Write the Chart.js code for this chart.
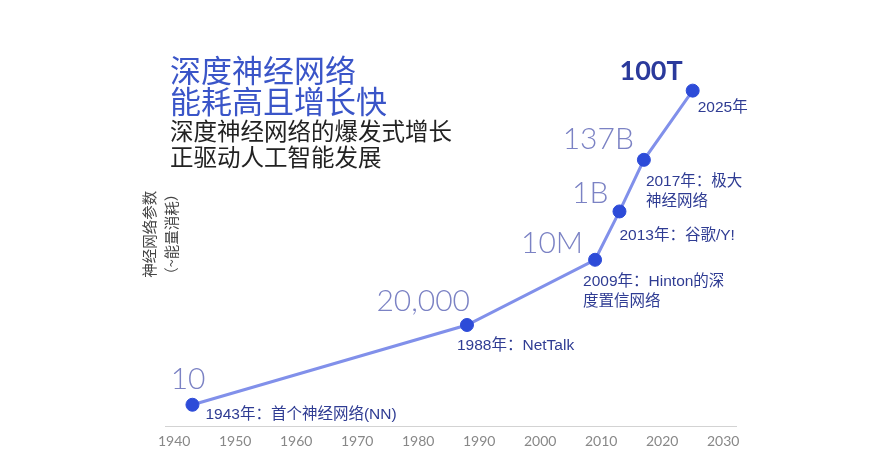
<!DOCTYPE html>
<html lang="zh">
<head>
<meta charset="utf-8">
<title>深度神经网络能耗高且增长快</title>
<script src="https://cdn.jsdelivr.net/npm/chart.js@4.4.1/dist/chart.umd.min.js"></script>
<style>
    html, body { margin: 0; padding: 0; background: #fff; }
    #wrap { position: relative; width: 888px; height: 473px; overflow: hidden; }
    #chart { position: absolute; left: 0; top: 0; }
    .head { position: absolute; left: 170px; font-family: "Noto Sans CJK SC", sans-serif; white-space: nowrap; }
    #title { top: 53px; font-size: 31px; line-height: 31px; color: #3a55c8; }
    #subtitle { top: 118px; font-size: 23.5px; line-height: 25.6px; color: #222; }
</style>
</head>
<body>
<div id="wrap">
    <canvas id="chart" width="888" height="473"></canvas>
    <div id="title" class="head">深度神经网络<br>能耗高且增长快</div>
    <div id="subtitle" class="head">深度神经网络的爆发式增长<br>正驱动人工智能发展</div>
</div>
<script>
const years = [1943, 1988, 2009, 2013, 2017, 2025];
const params = [10, 20000, 1e7, 1e9, 1.37e11, 1e14];
const valueLabels = ['10', '20,000', '10M', '1B', '137B', '100T'];
const noteLabels = [
    ['1943年：首个神经网络(NN)'],
    ['1988年：NetTalk'],
    ['2009年：Hinton的深', '度置信网络'],
    ['2013年：谷歌/Y!'],
    ['2017年：极大', '神经网络'],
    ['2025年'],
];
const tickYears = [1940, 1950, 1960, 1970, 1980, 1990, 2000, 2010, 2020, 2030];
const yTitle = ['神经网络参数', '（~能量消耗）'];

// label placement relative to each point (px)
const valueOffsets = [[13, -25], [3, -24], [-12, -16], [-11, -18], [-10, -20], [-10, -19]];
const noteOffsets = [[13, 10], [-10, 21], [-12, 21.5], [0, 24.5], [2, 22], [5, 17]];

const pointLabels = {
    id: 'pointLabels',
    afterDatasetsDraw(chart) {
        const ctx = chart.ctx;
        const meta = chart.getDatasetMeta(0);
        ctx.save();
        ctx.textBaseline = 'middle';
        meta.data.forEach((pt, i) => {
            const last = i === valueLabels.length - 1;
            ctx.textAlign = 'right';
            ctx.fillStyle = last ? '#2b3a9c' : '#7b82c4';
            ctx.font = last ? 'bold 27px Lato' : '300 30px Lato';
            ctx.fillText(valueLabels[i], pt.x + valueOffsets[i][0], pt.y + valueOffsets[i][1]);

            ctx.textAlign = 'left';
            ctx.fillStyle = '#2f3c93';
            ctx.font = '15.5px "Liberation Sans", "Noto Sans CJK SC"';
            noteLabels[i].forEach((line, j) => {
                ctx.fillText(line, pt.x + noteOffsets[i][0], pt.y + noteOffsets[i][1] + j * 20);
            });
        });
        ctx.restore();
    }
};

new Chart(document.getElementById('chart'), {
    type: 'line',
    data: {
        datasets: [{
            data: years.map((x, i) => ({ x: x, y: params[i] })),
            borderColor: '#8190ea',
            borderWidth: 3,
            backgroundColor: '#2d4bd8',
            pointBackgroundColor: '#2d4bd8',
            pointBorderColor: '#2d4bd8',
            pointBorderWidth: 1,
            pointRadius: 6.5,
            tension: 0,
            clip: false,
        }]
    },
    options: {
        responsive: false,
        animation: false,
        layout: { padding: { left: 134, right: 152, top: 42.3, bottom: 17 } },
        plugins: {
            legend: { display: false },
            tooltip: { enabled: false },
        },
        scales: {
            x: {
                type: 'linear',
                min: 1938.5,
                max: 2032.1,
                afterBuildTicks: (scale) => {
                    scale.ticks = tickYears.map((v) => ({ value: v }));
                },
                afterFit: (scale) => { scale.height = 30; },
                grid: { display: false, drawTicks: false },
                border: { display: true, color: '#d3d3d3', width: 1 },
                ticks: {
                    padding: 7,
                    color: '#888',
                    font: { family: 'Lato', size: 14 },
                    maxRotation: 0,
                    autoSkip: false,
                    callback: (v) => String(v),
                },
            },
            y: {
                type: 'logarithmic',
                min: 1.32,
                max: 1e16,
                afterFit: (scale) => { scale.width = 31; },
                grid: { display: false, drawTicks: false },
                border: { display: false },
                ticks: { display: false },
                title: {
                    display: true,
                    text: yTitle,
                    color: '#444',
                    font: { family: '"Noto Sans CJK SC"', size: 14.5, lineHeight: 1.55 },
                    padding: { top: 4, bottom: 0 },
                },
            },
        },
    },
    plugins: [pointLabels],
});
</script>
</body>
</html>
